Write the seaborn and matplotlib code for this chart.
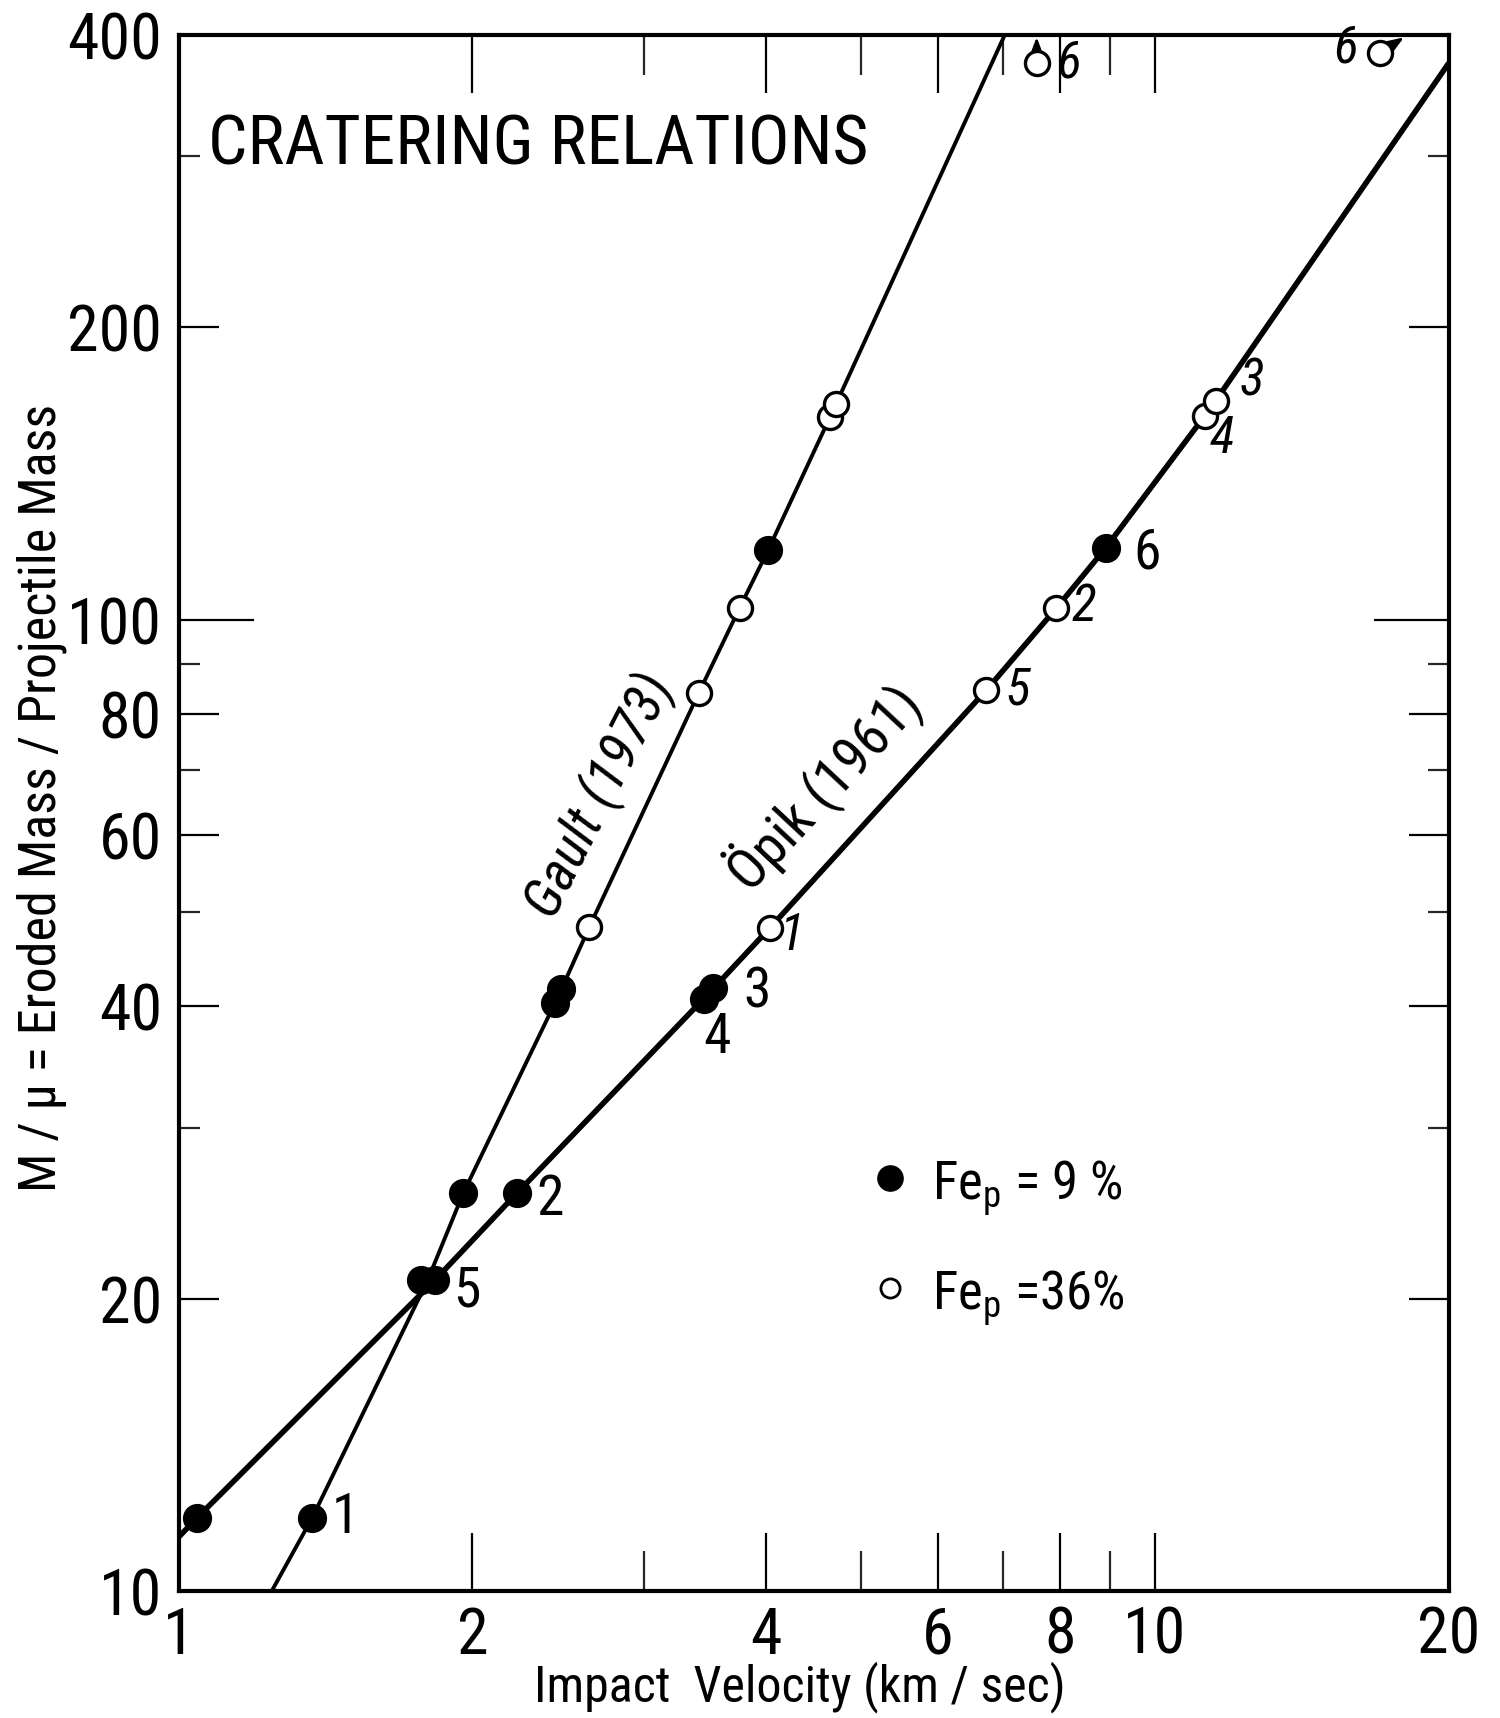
import matplotlib
matplotlib.use("Agg")
import matplotlib.pyplot as plt
import seaborn as sns
import pandas as pd
from matplotlib import font_manager

# measured points: impact velocity (km/s) vs M/mu, for both cratering relations
gault_v = [1.371, 1.77, 1.958, 2.43, 2.465, 2.636, 3.41, 3.756, 4.018, 4.645, 4.716, 7.57]
gault_m = [11.9, 20.9, 25.7, 40.3, 41.7, 48.3, 84.0, 102.8, 118.0, 161.6, 166.7, 374.0]
gault_fe = [9, 9, 9, 9, 9, 36, 36, 36, 9, 36, 36, 36]
gault_lab = ["1", "", "", "", "", "", "", "", "", "", "", "6"]

opik_v = [1.045, 1.831, 2.223, 3.458, 3.53, 4.037, 6.72, 7.93, 8.91, 11.27, 11.56, 17.03]
opik_m = [11.9, 20.9, 25.7, 40.7, 41.8, 48.2, 84.6, 102.8, 118.6, 162.0, 168.0, 383.7]
opik_fe = [9, 9, 9, 9, 9, 36, 36, 36, 9, 36, 36, 36]
opik_lab = ["", "5", "2", "4", "3", "1", "5", "2", "6", "4", "3", "6"]

# drawn relation curves
gault_curve_v = [1.246, 1.371, 1.80, 1.958, 2.45, 2.636, 3.41, 3.756, 4.018, 4.68, 7.02]
gault_curve_m = [10.0, 11.9, 20.9, 25.7, 41.0, 48.3, 84.0, 102.8, 118.0, 164.0, 400.0]
opik_curve_v = [1.0, 1.045, 1.831, 2.223, 3.49, 4.037, 6.72, 7.93, 8.91, 11.4, 20.0]
opik_curve_m = [11.36, 11.9, 20.9, 25.7, 41.2, 48.2, 84.6, 102.8, 118.6, 165.0, 374.0]

xticks_major = [1, 2, 4, 6, 8, 10, 20]
xticks_minor = [3, 5, 7, 9]
yticks_major = [10, 20, 40, 60, 80, 100, 200, 400]
yticks_minor = [30, 50, 70, 90, 300]

# label offsets (points) for the numbered points
gault_off = [(14, 0, "left"), None, None, None, None, None, None, None, None, None, None, (14, 0, "left")]
opik_off = [None, (13, -8, "left"), (14, -5, "left"), (9, -28, "center"), (22, -3, "left"),
            (7, -6, "left"), (14, 0, "left"), (11, 1, "left"), (20, -4, "left"),
            (12, -16, "center"), (17, 14, "left"), (-16, 3, "right")]


def pick_narrow_font():
    # old lettering is narrow, look for any condensed face that is installed
    cands = [('Liberation Sans Narrow', 'normal'), ('Roboto Condensed', 'normal'),
             ('Noto Sans Condensed', 'normal'), ('Open Sans Condensed', 'normal'),
             ('DejaVu Sans Condensed', 'normal'), ('Noto Sans', 'condensed'),
             ('DejaVu Sans', 'condensed'), ('Open Sans', 'condensed'), ('Roboto', 'condensed')]
    for fam, stretch in cands:
        try:
            path = font_manager.findfont(font_manager.FontProperties(family=fam, stretch=stretch),
                                         fallback_to_default=False)
        except Exception:
            continue
        low = path.lower()
        if 'condensed' in low or 'narrow' in low:
            for f in font_manager.fontManager.ttflist:
                if f.fname == path:
                    return f.name, f.stretch
    return None, None


sns.set_theme(style="white")
narrow, stretch = pick_narrow_font()
if narrow:
    plt.rcParams['font.family'] = [narrow, 'DejaVu Sans']
    plt.rcParams['font.stretch'] = stretch
    shrink = 1.0
else:
    plt.rcParams['font.family'] = ['Liberation Sans', 'DejaVu Sans']
    shrink = 0.8
plt.rcParams['mathtext.default'] = 'regular'
plt.rcParams['text.color'] = 'black'
plt.rcParams['axes.labelcolor'] = 'black'

fig = plt.figure(figsize=(15, 17.18), dpi=100)
ax = fig.add_axes([0.119, 0.0739, 0.8467, 0.9057])
ax.set_xscale('log')
ax.set_yscale('log')

sns.lineplot(x=gault_curve_v, y=gault_curve_m, sort=False, estimator=None,
             color='black', linewidth=2.8, ax=ax)
sns.lineplot(x=opik_curve_v, y=opik_curve_m, sort=False, estimator=None,
             color='black', linewidth=4.0, ax=ax)

df = pd.DataFrame({
    'v': gault_v + opik_v,
    'm': gault_m + opik_m,
    'fe': gault_fe + opik_fe,
})
sns.scatterplot(data=df[df.fe == 9], x='v', y='m', color='black', edgecolor='black',
                s=400, linewidth=1, ax=ax, zorder=4, clip_on=False)
sns.scatterplot(data=df[df.fe == 36], x='v', y='m', color='white', edgecolor='black',
                s=300, linewidth=2.4, ax=ax, zorder=4, clip_on=False)

# numbered point labels
for xs, ys, labs, offs, fes in [(gault_v, gault_m, gault_lab, gault_off, gault_fe),
                                (opik_v, opik_m, opik_lab, opik_off, opik_fe)]:
    for x, y, lab, off, fe in zip(xs, ys, labs, offs, fes):
        if not lab:
            continue
        italic = fe == 36
        ax.annotate(lab, (x, y), xytext=(off[0], off[1]), textcoords='offset points',
                    ha=off[2], va='center', fontsize=37 if italic else 40,
                    style='italic' if italic else 'normal')

# off-scale arrows
ax.annotate('', xy=(gault_v[-1], gault_m[-1]), xytext=(0, 19), textcoords='offset points',
            arrowprops=dict(arrowstyle='<|-,head_width=0.3,head_length=0.8', color='black',
                            lw=2, shrinkA=0, shrinkB=8))
ax.annotate('', xy=(opik_v[-1], opik_m[-1]), xytext=(17, 11), textcoords='offset points',
            arrowprops=dict(arrowstyle='<|-,head_width=0.3,head_length=0.8', color='black',
                            lw=2, shrinkA=0, shrinkB=8))

ax.text(2.70, 65.8, "Gault (1973)", rotation=63, rotation_mode='anchor',
        ha='center', va='center', fontsize=40 * (1 if narrow else 0.9), style='italic')
ax.text(4.58, 67.3, "Öpik (1961)", rotation=47, rotation_mode='anchor',
        ha='center', va='center', fontsize=40 * (1 if narrow else 0.9))

ax.text(0.0233, 0.929, "CRATERING RELATIONS", transform=ax.transAxes,
        fontsize=50 * shrink, ha='left', va='center')

# legend
ax.scatter([0.56], [0.2655], transform=ax.transAxes, s=330, color='black', zorder=5)
ax.scatter([0.56], [0.195], transform=ax.transAxes, s=190, facecolor='white',
           edgecolor='black', linewidth=2, zorder=5)
ax.text(0.593, 0.2514, r"Fe$_{p}$ = 9 %", transform=ax.transAxes,
        fontsize=38 * shrink, ha='left', va='baseline')
ax.text(0.593, 0.181, r"Fe$_{p}$ =36%", transform=ax.transAxes,
        fontsize=38 * shrink, ha='left', va='baseline')

ax.set_xlim(1, 20)
ax.set_ylim(10, 400)
ax.set_xticks(xticks_major)
ax.set_xticklabels([str(t) for t in xticks_major])
ax.set_xticks(xticks_minor, minor=True)
ax.set_xticklabels([], minor=True)
ax.set_yticks(yticks_major)
ax.set_yticklabels([str(t) for t in yticks_major])
ax.set_yticks(yticks_minor, minor=True)
ax.set_yticklabels([], minor=True)

tick_fs = 46 if narrow else 42
ax.tick_params(axis='x', which='major', direction='in', length=42, width=1.6,
               top=True, bottom=True, labelsize=tick_fs, pad=10, colors='black')
ax.tick_params(axis='x', which='minor', direction='in', length=29, width=1.6,
               top=True, bottom=True)
ax.tick_params(axis='y', which='major', direction='in', length=29, width=1.6,
               left=True, right=True, labelsize=tick_fs, pad=12, colors='black')
ax.tick_params(axis='y', which='minor', direction='in', length=15, width=1.6,
               left=True, right=True)
for t, val in zip(ax.yaxis.get_major_ticks(), yticks_major):
    if val == 100:
        t.tick1line.set_markersize(54)
        t.tick2line.set_markersize(54)

for s in ax.spines.values():
    s.set_linewidth(3)
    s.set_color('black')

ax.set_xlabel("Impact  Velocity (km / sec)", fontsize=36 * shrink, color='black')
ax.xaxis.set_label_coords(0.489, -0.045)
ax.set_ylabel("M / μ = Eroded Mass / Projectile Mass", fontsize=37.5 * shrink, color='black')
ax.yaxis.set_label_coords(-0.088, 0.51)

fig.savefig("out.png", dpi=100, facecolor='white')
